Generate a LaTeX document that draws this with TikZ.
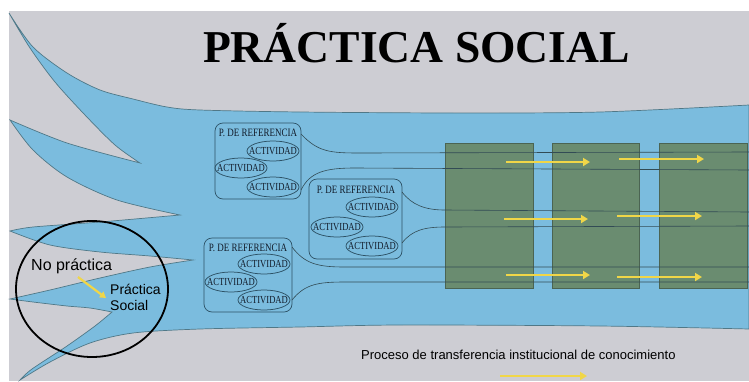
\documentclass[tikz,border=0pt]{standalone}
\usepackage{fontspec}
\usepackage{graphicx}
\setmainfont{Liberation Serif}
\newfontfamily\sansf{Liberation Sans}
\usetikzlibrary{shapes.geometric,arrows.meta}
\definecolor{bggray}{RGB}{205,205,211}
\definecolor{riverblue}{RGB}{123,188,222}
\definecolor{riveredge}{RGB}{80,120,135}
\definecolor{boxgreen}{RGB}{106,140,112}
\definecolor{greenedge}{RGB}{75,100,82}
\definecolor{boxline}{RGB}{45,82,102}
\definecolor{boxtext}{RGB}{18,28,42}
\definecolor{arrowyellow}{RGB}{240,214,72}
\definecolor{chanline}{RGB}{50,75,85}
\newcommand{\tallcaps}[1]{\scalebox{1}[1.25]{#1}}
\begin{document}
\begin{tikzpicture}[x=1pt,y=-1pt,
  greenbox/.style={draw=greenedge, line width=0.6pt, fill=boxgreen, inner sep=0pt},
  refbox/.style={draw=boxline, line width=0.7pt, rounded corners=8pt, inner sep=0pt},
  actnode/.style={ellipse, draw=boxline, line width=0.75pt, inner xsep=-7pt, inner ysep=0pt, minimum width=52pt, minimum height=20pt, font=\fontsize{8.6}{9}\selectfont, text=boxtext},
  reftext/.style={inner sep=0pt, font=\fontsize{9}{10}\selectfont, text=boxtext},
  chan/.style={draw=chanline, line width=0.6pt},
  yarrow/.style={draw=arrowyellow, line width=2.4pt, -{Triangle[length=7pt,width=8pt]}},
  sanslabel/.style={inner sep=0pt, font=\sansf\fontsize{16}{18}\selectfont, text=black}]
\useasboundingbox (0,0) rectangle (749,381);
\fill[white] (0,0) rectangle (749,381);
\fill[bggray] (9,11) rectangle (749,381);
% river
\path[fill=riverblue, draw=riveredge, line width=0.7pt]
 plot[smooth] coordinates {(9,13) (33,47) (67,73) (100,90) (133,99) (167,107) (200,110) (300,112) (460,113) (600,112) (749,105)}
 -- (749,329)
 -- plot[smooth] coordinates {(749,329) (600,326) (400,325) (300,327) (200,329) (133,333) (90,343) (50,362) (20,380)}
 -- plot[smooth] coordinates {(20,380) (32,369) (67,346) (95,326) (112,312)}
 -- plot[smooth] coordinates {(112,312) (90,308) (67,306) (33,302) (10,299)}
 -- plot[smooth] coordinates {(10,299) (50,290) (100,278) (150,267) (193,260)}
 -- plot[smooth] coordinates {(193,260) (150,256) (100,252) (50,245) (10,231)}
 -- plot[smooth] coordinates {(10,231) (33,227) (100,222) (180,215)}
 -- plot[smooth] coordinates {(180,215) (117,200) (67,177) (33,150) (10,120)}
 -- plot[smooth] coordinates {(10,120) (67,143) (140,163)}
 -- plot[smooth] coordinates {(140,163) (115,145) (85,115) (55,82) (30,48) (9,13)}
 -- cycle;
% title
\node[inner sep=0pt, anchor=base, font=\bfseries\fontsize{45.6}{50}\selectfont] (title) at (416.5,62) {PRÁCTICA SOCIAL};
% green blocks
\node[greenbox, minimum width=88pt, minimum height=145pt] (g1) at (489,215.5) {};
\node[greenbox, minimum width=87pt, minimum height=145pt] (g2) at (595.5,215.5) {};
\node[greenbox, minimum width=88pt, minimum height=145pt] (g3) at (703,215.5) {};
% reference boxes
\node[refbox, minimum width=86pt, minimum height=76pt] (boxA) at (258,161) {};
\node[refbox, minimum width=93pt, minimum height=80pt] (boxB) at (355.5,219) {};
\node[refbox, minimum width=88pt, minimum height=74pt] (boxC) at (248,275) {};
\node[reftext] (refA) at (258,133) {\tallcaps{P. DE REFERENCIA}};
\node[reftext] (refB) at (356,190) {\tallcaps{P. DE REFERENCIA}};
\node[reftext] (refC) at (248,248) {\tallcaps{P. DE REFERENCIA}};
\node[actnode] (a1) at (273,151) {\tallcaps{ACTIVIDAD}};
\node[actnode] (a2) at (241,168) {\tallcaps{ACTIVIDAD}};
\node[actnode] (a3) at (273,187) {\tallcaps{ACTIVIDAD}};
\node[actnode] (b1) at (372,207) {\tallcaps{ACTIVIDAD}};
\node[actnode] (b2) at (337,227) {\tallcaps{ACTIVIDAD}};
\node[actnode] (b3) at (372,246) {\tallcaps{ACTIVIDAD}};
\node[actnode] (c1) at (264,264) {\tallcaps{ACTIVIDAD}};
\node[actnode] (c2) at (231,282) {\tallcaps{ACTIVIDAD}};
\node[actnode] (c3) at (264,300) {\tallcaps{ACTIVIDAD}};
% channel coordinates
\coordinate (A1s) at (301,134); \coordinate (A1e) at (749,152);
\coordinate (A2s) at (301,190); \coordinate (A2e) at (749,170);
\coordinate (B1s) at (402,192); \coordinate (B1e) at (749,212);
\coordinate (B2s) at (402,243); \coordinate (B2e) at (749,226);
\coordinate (C1s) at (292,247); \coordinate (C1e) at (749,267);
\coordinate (C2s) at (292,300); \coordinate (C2e) at (749,282);
\draw[chan] (A1s) .. controls (318,152) and (330,153) .. (360,153) -- (A1e);
\draw[chan] (A2s) .. controls (310,172) and (325,168) .. (355,168) -- (A2e);
\draw[chan] (B1s) .. controls (412,205) and (425,210) .. (445,210) -- (B1e);
\draw[chan] (B2s) .. controls (412,230) and (425,227) .. (445,227) -- (B2e);
\draw[chan] (C1s) .. controls (305,264) and (318,267) .. (345,267) -- (C1e);
\draw[chan] (C2s) .. controls (305,284) and (318,282) .. (345,282) -- (C2e);
% yellow arrows
\coordinate (y1s) at (506,162); \coordinate (y1e) at (590,162);
\coordinate (y2s) at (619,159); \coordinate (y2e) at (704,159);
\coordinate (y3s) at (504,219); \coordinate (y3e) at (588,219);
\coordinate (y4s) at (617,216); \coordinate (y4e) at (702,216);
\coordinate (y5s) at (506,275); \coordinate (y5e) at (590,275);
\coordinate (y6s) at (617,277); \coordinate (y6e) at (702,277);
\coordinate (yls) at (500,376); \coordinate (yle) at (587,376);
\draw[yarrow] (y1s) -- (y1e);
\draw[yarrow] (y2s) -- (y2e);
\draw[yarrow] (y3s) -- (y3e);
\draw[yarrow] (y4s) -- (y4e);
\draw[yarrow] (y5s) -- (y5e);
\draw[yarrow] (y6s) -- (y6e);
\draw[yarrow] (yls) -- (yle);
% circle and labels
\draw[black, line width=1.8pt] (92,289) ellipse [x radius=76pt, y radius=68pt];
\node[sanslabel, anchor=base west] (nop) at (31,270) {No práctica};
\node[sanslabel, anchor=base west, align=left, font=\sansf\fontsize{14}{16}\selectfont] (ps) at (110,310) {Práctica\\Social};
\coordinate (sas) at (78,277); \coordinate (sae) at (106,298);
\draw[yarrow, line width=2.2pt, -{Triangle[length=6pt,width=7pt]}] (sas) -- (sae);
\node[inner sep=0pt, anchor=base west, font=\sansf\fontsize{13}{15}\selectfont] (legend) at (361,359) {Proceso de transferencia institucional de conocimiento};
\end{tikzpicture}
\end{document}
